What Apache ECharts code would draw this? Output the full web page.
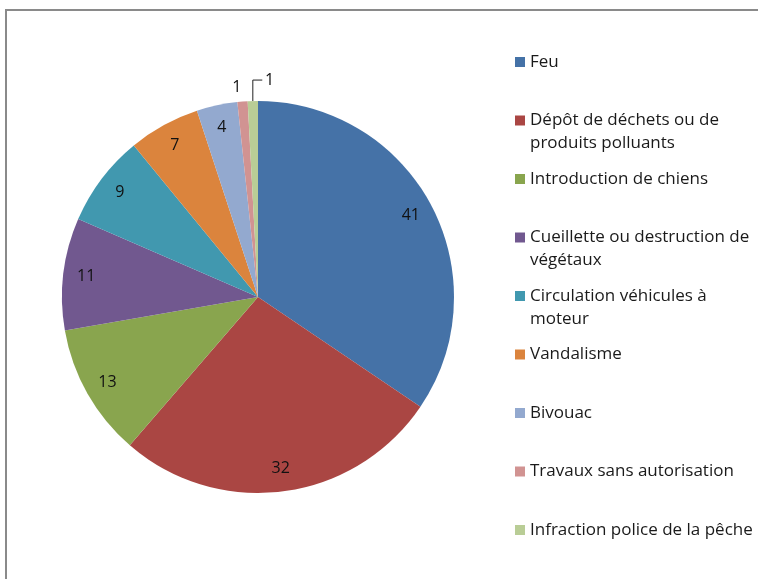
<!DOCTYPE html>
<html>
<head>
<meta charset="utf-8">
<script src="https://cdn.jsdelivr.net/npm/echarts@6/dist/echarts.min.js"></script>
<style>
html, body { margin: 0; padding: 0; background: #fff; overflow: hidden; width: 758px; height: 579px; }
#frame { position: absolute; left: 5px; top: 9px; width: 900px; height: 700px; border-left: 2px solid #8a8a8a; border-top: 2px solid #8a8a8a; }
#main { position: absolute; left: 0; top: 0; width: 758px; height: 579px; }
</style>
</head>
<body>
<div id="frame"></div>
<div id="main"></div>
<script>
var categories = ['Feu', 'Dépôt de déchets ou de produits polluants', 'Introduction de chiens',
    'Cueillette ou destruction de végétaux', 'Circulation véhicules à moteur', 'Vandalisme',
    'Bivouac', 'Travaux sans autorisation', 'Infraction police de la pêche'];
// texte de la légende (retours à la ligne comme dans Excel)
var legendText = ['Feu', 'Dépôt de déchets ou de\nproduits polluants', 'Introduction de chiens',
    'Cueillette ou destruction de\nvégétaux', 'Circulation véhicules à\nmoteur', 'Vandalisme',
    'Bivouac', 'Travaux sans autorisation', 'Infraction police de la pêche'];
var values = [41, 32, 13, 11, 9, 7, 4, 1, 1];
var colors = ['#4572A7', '#AA4643', '#89A54E', '#71588F', '#4198AF', '#DB843D', '#93A9CF', '#D19392', '#B9CD96'];

var myChart = echarts.init(document.getElementById('main'));

var FONT = '"Open Sans", Lato, sans-serif';
var LINE_H = 23;

// une légende par entrée, comme dans Excel (espacement fixe)
var legends = [];
for (var i = 0; i < categories.length; i++) {
    var twoLines = legendText[i].indexOf('\n') >= 0;
    // ligne vide devant : le carré reste aligné sur la 1re ligne
    var txt = twoLines ? '\n' + legendText[i] : legendText[i];
    legends.push({
        orient: 'vertical',
        left: 515,
        top: 62 + i * 58.5 - (twoLines ? LINE_H * 1.5 : LINE_H * 0.5),
        data: [categories[i]],
        icon: 'rect',
        itemWidth: 10,
        itemHeight: 10,
        itemGap: 0,
        padding: 0,
        formatter: (function (t) { return function () { return t; }; })(txt),
        textStyle: {
            fontFamily: FONT,
            fontSize: 17,
            color: '#1a1a1a',
            lineHeight: LINE_H
        }
    });
}

var pieData = categories.map(function (c, i) {
    return { name: c, value: values[i], itemStyle: { color: colors[i] } };
});

// petites parts : étiquettes à l'extérieur
var outerData = categories.map(function (c, i) {
    var d = { name: c, value: values[i] };
    if (i === 7) {
        d.label = { show: true, distanceToLabelLine: 0 };
        d.labelLine = { show: false, length: 14, length2: 0 };
    } else if (i === 8) {
        d.label = { show: true, distanceToLabelLine: -12, padding: [0, 0, 8, 0] };
        d.labelLine = { show: true, length: 21, length2: -10 };
    } else {
        d.label = { show: false };
    }
    return d;
});

option = {
    animation: false,
    legend: legends,
    series: [{
        // camembert principal
        name: 'main',
        type: 'pie',
        center: [258, 297],
        radius: 196,
        startAngle: 90,
        clockwise: true,
        label: { show: false },
        labelLine: { show: false },
        emphasis: { disabled: true },
        data: pieData
    }, {
        // anneau transparent pour placer les étiquettes "inside end"
        name: 'labels',
        type: 'pie',
        center: [258, 297],
        radius: [148, 192],
        startAngle: 90,
        silent: true,
        legendHoverLink: false,
        itemStyle: { color: 'rgba(0,0,0,0)' },
        label: {
            show: true,
            position: 'inside',
            fontFamily: FONT,
            fontSize: 16,
            color: '#111',
            formatter: function (p) { return p.value >= 2 ? p.value : ''; }
        },
        data: categories.map(function (c, i) { return { name: c, value: values[i] }; })
    }, {
        name: 'outer',
        type: 'pie',
        center: [258, 297],
        radius: 196,
        startAngle: 90,
        silent: true,
        avoidLabelOverlap: false,
        legendHoverLink: false,
        itemStyle: { color: 'rgba(0,0,0,0)' },
        label: {
            position: 'outside',
            fontFamily: FONT,
            fontSize: 16,
            color: '#111',
            formatter: '{c}'
        },
        labelLine: { lineStyle: { color: '#222', width: 1 } },
        data: outerData
    }]
};

myChart.setOption(option);
</script>
</body>
</html>
